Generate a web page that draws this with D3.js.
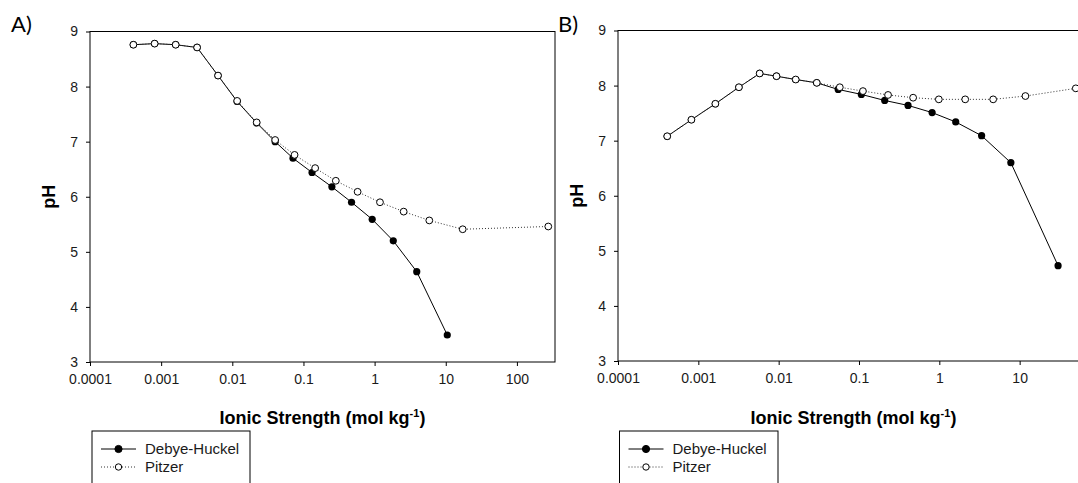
<!DOCTYPE html>
<html>
<head>
<meta charset="utf-8">
<script src="https://cdn.jsdelivr.net/npm/d3@7"></script>
<style>
  body { margin: 0; background: #fff; }
  svg { display: block; font-family: "Liberation Sans", Arial, sans-serif; }
</style>
</head>
<body>
<div id="chart"></div>
<script>
// Panel A data
var ionicA_dh = [0.000407, 0.00081, 0.0016, 0.0032, 0.0063, 0.0117, 0.022, 0.040, 0.0713, 0.132, 0.251, 0.474, 0.925, 1.83, 3.91, 10.5];
var phA_dh    = [8.76, 8.78, 8.76, 8.71, 8.20, 7.73, 7.34, 7.00, 6.70, 6.44, 6.18, 5.90, 5.59, 5.20, 4.64, 3.49];
var ionicA_pz = [0.000407, 0.00081, 0.0016, 0.0032, 0.0063, 0.0117, 0.022, 0.040, 0.075, 0.146, 0.285, 0.577, 1.19, 2.56, 5.87, 17.3, 276];
var phA_pz    = [8.76, 8.78, 8.76, 8.71, 8.20, 7.74, 7.35, 7.03, 6.76, 6.52, 6.29, 6.09, 5.90, 5.73, 5.57, 5.41, 5.46];

// Panel B data
var ionicB_dh = [0.00041, 0.00082, 0.00163, 0.0032, 0.0058, 0.0094, 0.0163, 0.0298, 0.0551, 0.107, 0.209, 0.408, 0.813, 1.60, 3.36, 7.77, 30.1];
var phB_dh    = [7.08, 7.38, 7.67, 7.97, 8.22, 8.17, 8.11, 8.05, 7.93, 7.84, 7.73, 7.64, 7.51, 7.34, 7.09, 6.60, 4.73];
var ionicB_pz = [0.00041, 0.00082, 0.00163, 0.0032, 0.0058, 0.0094, 0.0163, 0.0298, 0.0577, 0.112, 0.230, 0.472, 0.986, 2.10, 4.68, 11.8, 50];
var phB_pz    = [7.08, 7.38, 7.67, 7.97, 8.22, 8.17, 8.11, 8.05, 7.97, 7.90, 7.83, 7.78, 7.75, 7.75, 7.75, 7.81, 7.95];

// Axis ticks
var xTicksA = [0.0001, 0.001, 0.01, 0.1, 1, 10, 100];
var xLabelsA = ["0.0001", "0.001", "0.01", "0.1", "1", "10", "100"];
var xTicksB = [0.0001, 0.001, 0.01, 0.1, 1, 10];
var xLabelsB = ["0.0001", "0.001", "0.01", "0.1", "1", "10"];
var yTicks = [3, 4, 5, 6, 7, 8, 9];
var seriesNames = ["Debye-Huckel", "Pitzer"];

var svg = d3.select("#chart").append("svg")
    .attr("width", 1078)
    .attr("height", 483);

function styleAxis(a) {
    a.select(".domain").remove();
    a.attr("font-family", null).attr("font-size", null);
    a.selectAll("text").attr("font-size", 14).attr("fill", "#1a1a1a");
    a.selectAll("line").attr("stroke", "#000");
}

function drawPanel(p) {
    var x = d3.scaleLog().domain([0.0001, p.xMax]).range([p.left, p.right]);
    var y = d3.scaleLinear().domain([3, 9]).range([p.bottom, p.top]);
    var g = svg.append("g");

    // frame
    g.append("rect")
        .attr("x", p.left).attr("y", p.top)
        .attr("width", p.right - p.left).attr("height", p.bottom - p.top)
        .attr("fill", "none").attr("stroke", "#000").attr("stroke-width", 1);

    var xAxis = d3.axisBottom(x)
        .tickValues(p.xTicks)
        .tickFormat((d, i) => p.xLabels[i])
        .tickSize(4).tickSizeOuter(0).tickPadding(8);
    g.append("g")
        .attr("transform", `translate(0, ${p.bottom})`)
        .call(xAxis)
        .call(styleAxis);

    var yAxis = d3.axisLeft(y)
        .tickValues(yTicks)
        .tickFormat(d3.format("d"))
        .tickSize(4).tickSizeOuter(0).tickPadding(8);
    g.append("g")
        .attr("transform", `translate(${p.left}, 0)`)
        .call(yAxis)
        .call(styleAxis);

    var line = d3.line().x(d => x(d[0])).y(d => y(d[1]));
    var dh = p.dhX.map((v, i) => [v, p.dhY[i]]);
    var pz = p.pzX.map((v, i) => [v, p.pzY[i]]);

    g.append("path").datum(dh).attr("d", line)
        .attr("fill", "none").attr("stroke", "#000").attr("stroke-width", 1);
    g.selectAll(".dh").data(dh).enter().append("circle")
        .attr("cx", d => x(d[0])).attr("cy", d => y(d[1])).attr("r", 3.6)
        .attr("fill", "#000");

    g.append("path").datum(pz).attr("d", line)
        .attr("fill", "none").attr("stroke", "#333").attr("stroke-width", 1)
        .attr("stroke-dasharray", "1,2");
    g.selectAll(".pz").data(pz).enter().append("circle")
        .attr("cx", d => x(d[0])).attr("cy", d => y(d[1])).attr("r", 3.4)
        .attr("fill", "#fff").attr("stroke", "#000").attr("stroke-width", 1);

    // axis titles
    var t = g.append("text")
        .attr("x", (p.left + p.right) / 2).attr("y", 424)
        .attr("text-anchor", "middle")
        .attr("font-size", 18).attr("font-weight", "bold")
        .text("Ionic Strength (mol kg");
    t.append("tspan").attr("dy", -7).attr("font-size", 11).text("-1");
    t.append("tspan").attr("dy", 7).text(")");

    g.append("text")
        .attr("transform", `translate(${p.left - 35}, ${(p.top + p.bottom) / 2}) rotate(-90)`)
        .attr("text-anchor", "middle")
        .attr("font-size", 18).attr("font-weight", "bold")
        .text("pH");

    // panel letter
    g.append("text")
        .attr("x", p.letterX).attr("y", 32)
        .attr("font-size", 22)
        .attr("font-family", "Lato, 'Open Sans', sans-serif")
        .text(p.letter);

    // legend
    var lg = g.append("g").attr("transform", `translate(${p.legX}, 431)`);
    lg.append("rect").attr("x", 0).attr("y", 0)
        .attr("width", p.legW).attr("height", 60)
        .attr("fill", "#fff").attr("stroke", "#000").attr("stroke-width", 1);
    seriesNames.forEach(function(name, i) {
        var yy = 18 + i * 18;
        lg.append("line").attr("x1", 9).attr("x2", 44).attr("y1", yy).attr("y2", yy)
            .attr("stroke", i == 0 ? "#000" : "#333").attr("stroke-width", 1)
            .attr("stroke-dasharray", i == 0 ? null : "1,2");
        lg.append("circle").attr("cx", 26.5).attr("cy", yy).attr("r", i == 0 ? 3.6 : 3.2)
            .attr("fill", i == 0 ? "#000" : "#fff").attr("stroke", "#000");
        lg.append("text").attr("x", 53).attr("y", yy + 5)
            .attr("font-size", 15).attr("fill", "#1a1a1a")
            .text(name);
    });
}

drawPanel({
    left: 90, right: 555, top: 31.5, bottom: 362, xMax: 343,
    xTicks: xTicksA, xLabels: xLabelsA,
    dhX: ionicA_dh, dhY: phA_dh, pzX: ionicA_pz, pzY: phA_pz,
    letter: "A)", letterX: 11, legX: 92, legW: 158
});

drawPanel({
    left: 618, right: 1089, top: 30.5, bottom: 361, xMax: 73,
    xTicks: xTicksB, xLabels: xLabelsB,
    dhX: ionicB_dh, dhY: phB_dh, pzX: ionicB_pz, pzY: phB_pz,
    letter: "B)", letterX: 558, legX: 619.5, legW: 158.5
});
</script>
</body>
</html>
